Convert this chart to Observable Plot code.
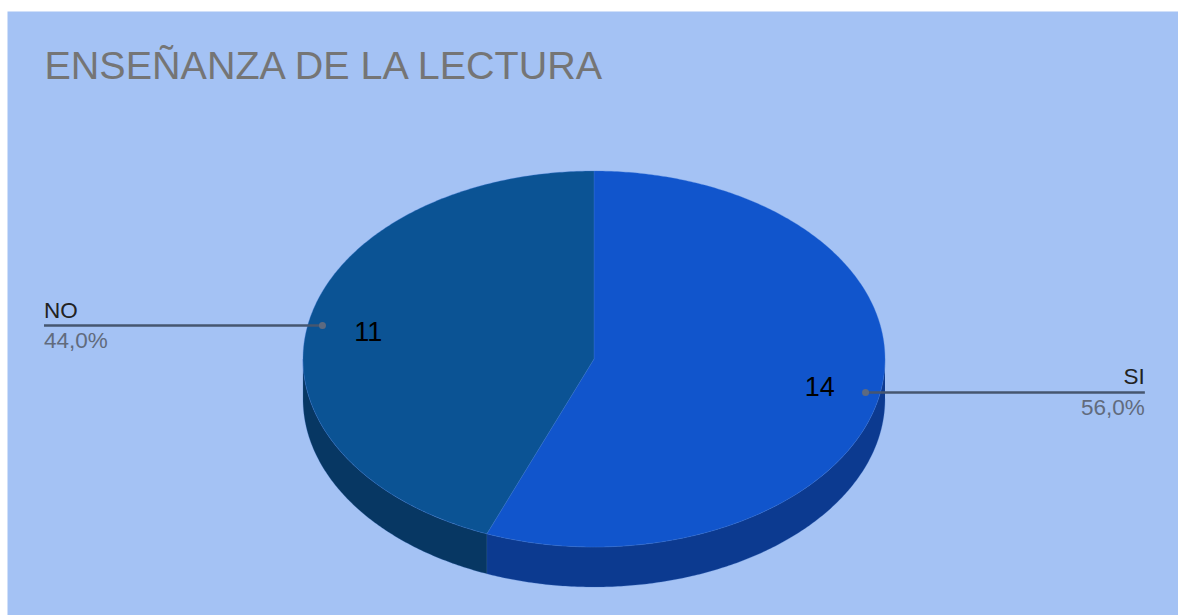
<!DOCTYPE html>
<html>
<head>
<meta charset="utf-8">
<script src="https://cdn.jsdelivr.net/npm/d3@7"></script>
<script src="https://cdn.jsdelivr.net/npm/@observablehq/plot@0.6"></script>
<style>
html,body{margin:0;padding:0;background:#fff;overflow:hidden}
svg{display:block}
</style>
</head>
<body>
<div id="chart"></div>
<script>
const titleText = "ENSEÑANZA DE LA LECTURA";
const categories = ["SI", "NO"];
const counts = [14, 11];
const percentLabels = ["56,0%", "44,0%"];
const topColors = ["#1155cc", "#0b5394"];
const sideColors = ["#0c3a90", "#073763"];

const total = d3.sum(counts);
const TAU = Math.PI * 2;
const depth = 40 / 188;        // wall thickness, in pie radii
let acc = 0;
const slices = categories.map((name, i) => {
  const a0 = acc / total * TAU;
  acc += counts[i];
  const a1 = acc / total * TAU;
  return {name, value: counts[i], pct: percentLabels[i], a0, a1, mid: (a0 + a1) / 2,
          top: topColors[i], side: sideColors[i]};
});
const px = (r, a) => r * Math.sin(a);
const py = (r, a) => -r * Math.cos(a);
const arc = (a0, a1, off = 0) => {
  const n = Math.max(2, Math.ceil(Math.abs(a1 - a0) / 0.01));
  return d3.range(n + 1).map(k => {
    const a = a0 + (a1 - a0) * k / n;
    return {x: px(1, a), y: py(1, a) + off};
  });
};
const topPolys = slices.map(s => [{x: 0, y: 0}, ...arc(s.a0, s.a1), {x: 0, y: 0}]
  .map(p => ({...p, key: s.top})));
const wallPolys = slices.flatMap(s => {
  const a0 = Math.max(s.a0, TAU / 4), a1 = Math.min(s.a1, TAU * 3 / 4);
  if (a1 <= a0) return [];
  return [[...arc(a0, a1), ...arc(a1, a0, depth)].map(p => ({...p, key: s.side}))];
});
const leaders = slices.map(s => {
  const right = px(1, s.mid) > 0;
  const y = py(0.95, s.mid);
  return {...s, right, x1: px(0.95, s.mid), y1: y, x2: right ? 1.893 : -1.89, y2: y,
          vx: px(0.79, s.mid), vy: py(0.79, s.mid)};
});
const font = "'Liberation Sans', Arial, sans-serif";
const labelMarks = (rows, anchor) => [
  Plot.text(rows, {x: "x2", y: "y2", text: "name", fill: "#222", fontSize: 22.5, fontFamily: font,
    textAnchor: anchor, lineAnchor: "bottom", dy: -8}),
  Plot.text(rows, {x: "x2", y: "y2", text: "pct", fill: "#616b7d", fontSize: 22.5, fontFamily: font,
    textAnchor: anchor, lineAnchor: "top", dy: 6.5})
];

const chart = Plot.plot({
  width: 1178, height: 615,
  margin: 0,
  style: {background: "#fff", fontFamily: font},
  x: {domain: [-1, 1], range: [302.5, 884.5], axis: null},
  y: {domain: [-1, 1], range: [170.5, 546.5], axis: null},
  color: {type: "identity"},
  marks: [
    Plot.frame({fill: "#a4c2f4", stroke: "none", insetLeft: 7, insetTop: 11}),
    ...wallPolys.map(p => Plot.line(p, {x: "x", y: "y", fill: "key", stroke: "#3f6fc0", strokeOpacity: 0.35, strokeWidth: 0.7, curve: "linear"})),
    ...topPolys.map(p => Plot.line(p, {x: "x", y: "y", fill: "key", stroke: "#3f78d8", strokeOpacity: 0.45, strokeWidth: 0.7, curve: "linear"})),
    Plot.link(leaders, {x1: "x1", y1: "y1", x2: "x2", y2: "y2", stroke: "#46566f", strokeWidth: 2.4}),
    Plot.dot(leaders, {x: "x1", y: "y1", r: 3.5, fill: "#5d6a80", stroke: "none"}),
    Plot.text(leaders, {x: "vx", y: "vy", text: d => String(d.value), fill: "#000", fontSize: 27, textAnchor: "middle", lineAnchor: "middle", dy: 1}),
    ...labelMarks(leaders.filter(d => d.right), "end"),
    ...labelMarks(leaders.filter(d => !d.right), "start"),
    Plot.text([titleText], {frameAnchor: "top-left", dx: 44, dy: 50, text: d => d, fill: "#757575", fontSize: 39.5, fontFamily: font, lineAnchor: "top"})
  ]
});
document.getElementById("chart").append(chart);
</script>
</body>
</html>
